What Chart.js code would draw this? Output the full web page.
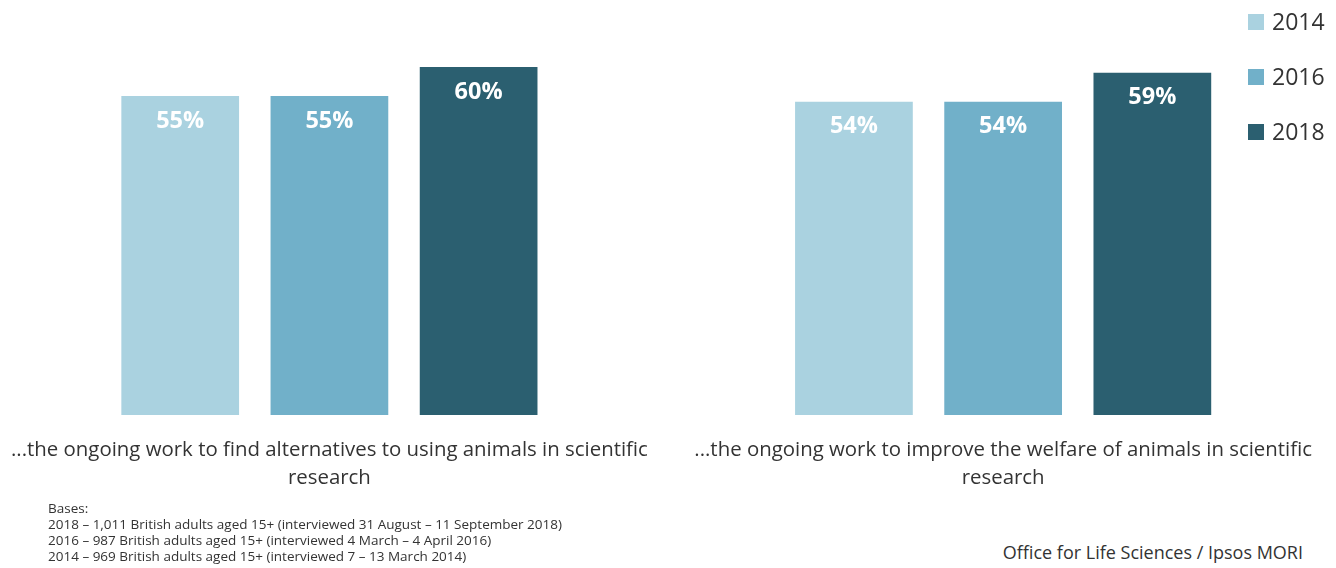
<!DOCTYPE html>
<html>
<head>
<meta charset="utf-8">
<script src="https://cdn.jsdelivr.net/npm/chart.js@4/dist/chart.umd.min.js"></script>
<style>
  html, body { margin:0; padding:0; width:1336px; height:568px; overflow:hidden; background:#fff; }
  #wrap { position:absolute; left:-10px; top:0; width:1350px; height:500px; }
  .note { position:absolute; font-family:"Open Sans", sans-serif; color:#333; white-space:nowrap; }
  #bases { left:48px; top:501px; font-size:13.5px; line-height:15.9px; }
  #source { right:33px; top:539px; font-size:18px; line-height:26px; }
</style>
</head>
<body>
<div id="wrap"><canvas id="c" width="1350" height="500"></canvas></div>
<div id="bases" class="note">Bases:<br>2018 – 1,011 British adults aged 15+ (interviewed 31 August – 11 September 2018)<br>2016 – 987 British adults aged 15+ (interviewed 4 March – 4 April 2016)<br>2014 – 969 British adults aged 15+ (interviewed 7 – 13 March 2014)</div>
<div id="source" class="note">Office for Life Sciences / Ipsos MORI</div>
<script>
const categories = [
  ["...the ongoing work to find alternatives to using animals in scientific", "research"],
  ["...the ongoing work to improve the welfare of animals in scientific", "research"]
];
const seriesNames = ["2014", "2016", "2018"];
const values2014 = [55, 54];
const values2016 = [55, 54];
const values2018 = [60, 59];
const colors = ["#aad2e0", "#71b0c9", "#2b5f70"];

const FONT = '"Open Sans", sans-serif';

const valueLabels = {
  id: 'valueLabels',
  afterDatasetsDraw(chart) {
    const ctx = chart.ctx;
    ctx.save();
    ctx.fillStyle = '#ffffff';
    ctx.font = 'bold 23.5px ' + FONT;
    ctx.textAlign = 'center';
    ctx.textBaseline = 'middle';
    chart.data.datasets.forEach((ds, i) => {
      chart.getDatasetMeta(i).data.forEach((bar, j) => {
        ctx.fillText(ds.data[j] + '%', bar.x, bar.y + 25);
      });
    });
    ctx.restore();
  }
};

const sideLegend = {
  id: 'sideLegend',
  afterDraw(chart) {
    const ctx = chart.ctx;
    ctx.save();
    ctx.font = '23px ' + FONT;
    ctx.textBaseline = 'middle';
    ctx.textAlign = 'left';
    chart.data.datasets.forEach((ds, i) => {
      const cy = 22 + i * 55;
      const x0 = 1248 + 10;
      ctx.fillStyle = ds.backgroundColor;
      ctx.fillRect(x0, cy - 8, 16, 16);
      ctx.fillStyle = '#333333';
      ctx.fillText(ds.label, x0 + 24, cy + 1);
    });
    ctx.restore();
  }
};

new Chart(document.getElementById('c'), {
  type: 'bar',
  data: {
    labels: categories,
    datasets: [
      { label: seriesNames[0], data: values2014, backgroundColor: colors[0] },
      { label: seriesNames[1], data: values2016, backgroundColor: colors[1] },
      { label: seriesNames[2], data: values2018, backgroundColor: colors[2] }
    ]
  },
  options: {
    responsive: false,
    animation: false,
    devicePixelRatio: 1,
    layout: { padding: { top: 9, left: 0, right: 0, bottom: 0 } },
    categoryPercentage: 0.6644,
    barPercentage: 0.789,
    plugins: { legend: { display: false }, tooltip: { enabled: false } },
    scales: {
      x: {
        grid: { display: false, drawTicks: false },
        border: { display: false },
        ticks: { color: '#333333', font: { family: FONT, size: 20.4, lineHeight: 1.37 }, padding: 21, maxRotation: 0, autoSkip: false },
        afterFit(scale) { scale.height = 85; }
      },
      y: { display: false, min: 0, max: 70 }
    }
  },
  plugins: [valueLabels, sideLegend]
});
</script>
</body>
</html>
